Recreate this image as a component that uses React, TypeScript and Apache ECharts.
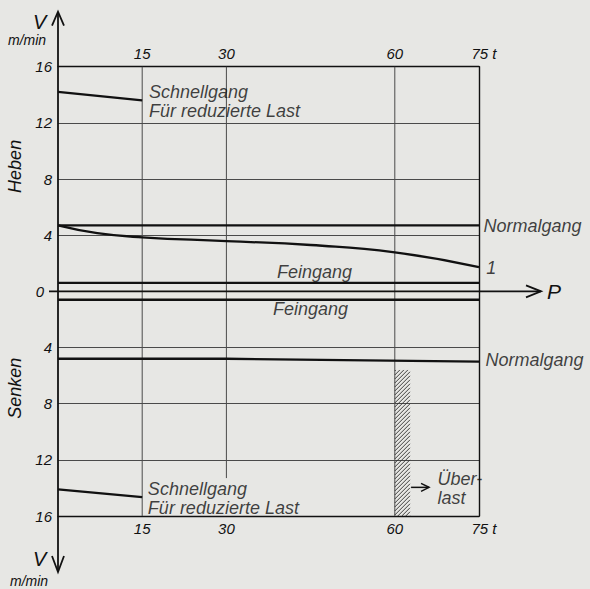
import React, { useEffect, useRef } from "react";
import * as echarts from "echarts";

// ---- data ----
const loadMin = 0;
const loadMax = 75;
const loadInterval = 15;
const loadLabels: Record<number, string> = { 15: "15", 30: "30", 60: "60", 75: "75" };
const speedMin = -16;
const speedMax = 16;
const speedInterval = 4;

// vertical grid lines (load, t) and their lower ends (m/min)
const gridLoads = [15, 30, 60];
const gridLowerEnds = [-16, -13.3, -16];

// Heben (lifting), positive values
const schnellHeben = [[0, 14.2], [15, 13.6]];
const normalHeben = [[0, 4.7], [75, 4.7]];
const kurve1 = [
  [0, 4.7], [7, 4.15], [15, 3.85], [30, 3.58],
  [45, 3.3], [60, 2.78], [75, 1.73],
];
const feinHeben = [[0, 0.6], [75, 0.6]];
// Senken (lowering), negative values
const feinSenken = [[0, -0.6], [75, -0.6]];
const normalSenken = [[0, -4.8], [30, -4.8], [75, -5.0]];
const schnellSenken = [[0, -14.1], [15, -14.65]];
// overload zone: [load from, load to, speed top, speed bottom]
const ueberlast = [60, 62.7, -5.6, -16];

const annotations: { text: string; at: number[] }[] = [
  { text: "Schnellgang\nFür reduzierte Last", at: [16.3, 13.5] },
  { text: "Schnellgang\nFür reduzierte Last", at: [16.1, -14.8] },
  { text: "Normalgang", at: [75.9, 4.63] },
  { text: "1", at: [76.4, 1.64] },
  { text: "Feingang", at: [39.1, 1.35] },
  { text: "Feingang", at: [38.4, -1.28] },
  { text: "Normalgang", at: [76.25, -4.91] },
  { text: "Über-\nlast", at: [67.7, -14.1] },
];

const INK = "#111111";
const GRIDC = "#4a4a4a";
const FONT = "Liberation Sans";
const BG = "#e7e7e4";

export default function App() {
  const ref = useRef<HTMLDivElement>(null);

  useEffect(() => {
    document.body.style.margin = "0";
    document.body.style.background = BG;
    const chart = echarts.init(ref.current!, null, { renderer: "svg" });

    const thick = (data: number[][], smooth = false) => ({
      type: "line",
      data,
      showSymbol: false,
      symbol: "none",
      smooth: smooth ? 0.5 : false,
      lineStyle: { color: INK, width: 2.3 },
      z: 5,
    });

    const tickLabel = {
      fontFamily: FONT,
      fontStyle: "italic",
      fontSize: 15,
      color: INK,
    };

    const xLabelFmt = (v: number) => {
      const s = loadLabels[v];
      if (!s) return "";
      if (v === 75) return "{p| }75 t";
      return s;
    };

    const option: any = {
      animation: false,
      backgroundColor: BG,
      grid: { left: 58, top: 66.7, width: 421, height: 449.3, containLabel: false },
      xAxis: [
        {
          type: "value", position: "bottom", min: loadMin, max: loadMax, interval: loadInterval,
          axisLine: { show: true, onZero: false, lineStyle: { color: INK, width: 1.4 } },
          axisTick: { show: false }, splitLine: { show: false },
          axisLabel: { ...tickLabel, margin: 5, formatter: xLabelFmt, rich: { p: { width: 10 } } },
        },
        {
          type: "value", position: "top", min: loadMin, max: loadMax, interval: loadInterval,
          axisLine: { show: true, onZero: false, lineStyle: { color: INK, width: 1.4 } },
          axisTick: { show: false }, splitLine: { show: false },
          axisLabel: { ...tickLabel, margin: 6, formatter: xLabelFmt, rich: { p: { width: 10 } } },
        },
      ],
      yAxis: [
        {
          type: "value", position: "left", min: speedMin, max: speedMax, interval: speedInterval,
          axisLine: { show: false }, axisTick: { show: false },
          splitLine: { show: true, lineStyle: { color: GRIDC, width: 1 } },
          axisLabel: {
            ...tickLabel, margin: 6,
            formatter: (v: number) => (v === 0 ? "{z|0}" : String(Math.abs(v))),
            rich: { z: { ...tickLabel, padding: [0, 8, 0, 0] } },
          },
        },
        {
          type: "value", position: "right", min: speedMin, max: speedMax, interval: speedInterval,
          axisLine: { show: true, onZero: false, lineStyle: { color: INK, width: 1.4 } },
          axisTick: { show: false }, splitLine: { show: false }, axisLabel: { show: false },
        },
      ],
      series: [
        ...gridLoads.map((x, i) => ({
          type: "line",
          data: [[x, gridLowerEnds[i]], [x, speedMax]],
          showSymbol: false, symbol: "none",
          lineStyle: { color: GRIDC, width: 1 },
          z: 2,
        })),
        thick(schnellHeben),
        thick(normalHeben),
        thick(kurve1, true),
        thick(feinHeben),
        thick(feinSenken),
        thick(normalSenken),
        thick(schnellSenken),
        {
          type: "custom",
          clip: false,
          data: [ueberlast],
          encode: { x: [0, 1], y: [2, 3] },
          renderItem: (_p: any, api: any) => {
            const a = api.coord([api.value(0), api.value(2)]);
            const b = api.coord([api.value(1), api.value(3)]);
            const x0 = a[0], y0 = a[1], x1 = b[0], y1 = b[1];
            const children: any[] = [];
            const step = 4;
            for (let k = x0 + y0 + 1; k < x1 + y1; k += step) {
              const ax = Math.max(x0, k - y1);
              const bx = Math.min(x1, k - y0);
              if (bx <= ax) continue;
              children.push({
                type: "line",
                shape: { x1: ax, y1: k - ax, x2: bx, y2: k - bx },
                style: { stroke: "#2a2a2a", lineWidth: 0.9 },
              });
            }
            return { type: "group", children };
          },
          z: 4,
        },
        {
          type: "scatter",
          clip: false,
          symbolSize: 1,
          itemStyle: { color: "transparent" },
          data: annotations.map((a) => ({ value: a.at, name: a.text })),
          label: {
            show: true,
            position: [0, 0],
            align: "left",
            verticalAlign: "middle",
            formatter: (p: any) => p.name,
            fontFamily: FONT,
            fontStyle: "italic",
            fontSize: 18,
            lineHeight: 19,
            color: INK,
          },
          z: 6,
        },
      ],
    };

    chart.setOption(option);

    const px = (p: number[]) => chart.convertToPixel({ gridIndex: 0 }, p) as number[];
    const origin = px([0, 0]);
    const right = px([loadMax, 0]);
    const ax = origin[0];
    const y0 = origin[1];
    const topPx = px([0, speedMax])[1];
    const botPx = px([0, speedMin])[1];
    const arrowFrom = px([62.9, -13.96]);
    const arrowTo = px([66.1, -13.96]);
    const pEnd = right[0] + 62;

    const stroke = { stroke: INK, lineWidth: 1.8, fill: "none" };
    const txt = (text: string, x: number, y: number, size: number, extra: any = {}) => ({
      type: "text",
      x, y,
      style: {
        text, fill: INK, fontFamily: FONT, fontStyle: "italic", fontSize: size,
        align: "left", verticalAlign: "middle", ...extra,
      },
      z: 10,
    });

    chart.setOption({
      graphic: [
        // vertical V axis with arrows at both ends
        { type: "line", shape: { x1: ax, y1: topPx - 54, x2: ax, y2: botPx + 55 }, style: stroke, z: 10 },
        { type: "polyline", shape: { points: [[ax - 6, topPx - 41], [ax, topPx - 55], [ax + 6, topPx - 41]] }, style: stroke, z: 10 },
        { type: "polyline", shape: { points: [[ax - 6, botPx + 40], [ax, botPx + 56], [ax + 6, botPx + 40]] }, style: stroke, z: 10 },
        // P axis
        { type: "line", shape: { x1: ax - 9, y1: y0, x2: pEnd, y2: y0 }, style: stroke, z: 10 },
        { type: "polyline", shape: { points: [[pEnd - 15, y0 - 6], [pEnd, y0], [pEnd - 15, y0 + 6]] }, style: stroke, z: 10 },
        txt("P", pEnd + 6, y0, 21),
        // V labels
        txt("V", ax - 25, topPx - 45, 20),
        txt("m/min", ax - 50, topPx - 27, 14),
        txt("V", ax - 25, botPx + 43, 20),
        txt("m/min", ax - 48, botPx + 65, 14),
        // Heben / Senken
        { ...txt("Heben", 15, px([0, 8.9])[1], 18, { align: "center" }), rotation: Math.PI / 2 },
        { ...txt("Senken", 15, px([0, -6.9])[1], 18, { align: "center" }), rotation: Math.PI / 2 },
        // overload arrow
        { type: "line", shape: { x1: arrowFrom[0], y1: arrowFrom[1], x2: arrowTo[0], y2: arrowTo[1] }, style: { ...stroke, lineWidth: 1.5 }, z: 10 },
        { type: "polyline", shape: { points: [[arrowTo[0] - 8, arrowTo[1] - 4], [arrowTo[0], arrowTo[1]], [arrowTo[0] - 8, arrowTo[1] + 4]] }, style: { ...stroke, lineWidth: 1.5 }, z: 10 },
      ],
    });

    return () => chart.dispose();
  }, []);

  return <div ref={ref} style={{ width: 590, height: 589 }} />;
}
